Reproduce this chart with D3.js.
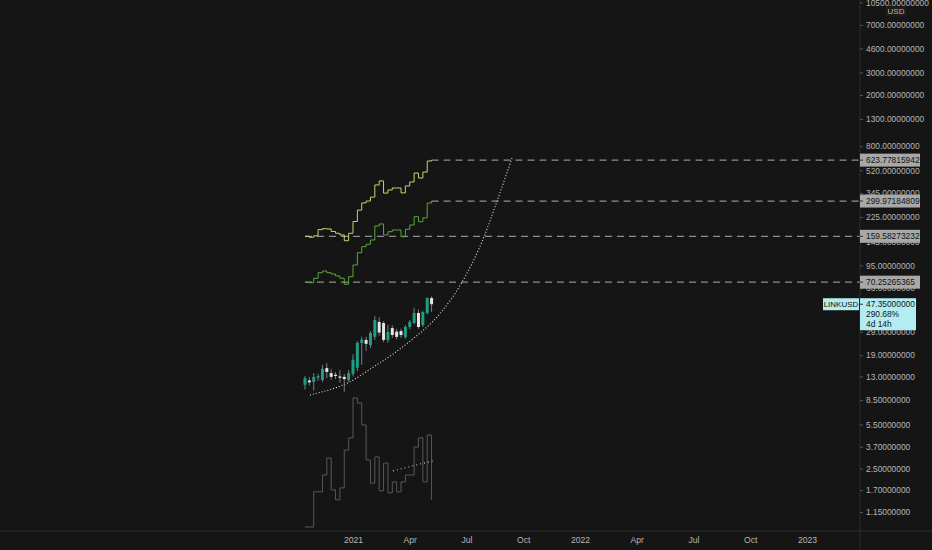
<!DOCTYPE html>
<html>
<head>
<meta charset="utf-8">
<script src="https://cdn.jsdelivr.net/npm/d3@7"></script>
<style>
  html, body { margin: 0; padding: 0; background: #151515; }
  svg { display: block; }
  text { font-family: "Liberation Sans", Arial, sans-serif; }
</style>
</head>
<body>
<svg id="chart" width="932" height="550"></svg>
<script>
// weekly LINKUSD bars, Oct 19 2020 .. May 10 2021
const barDates = d3.utcMonday.range(new Date(Date.UTC(2020, 9, 19)), new Date(Date.UTC(2021, 4, 11)));

const opens  = [11.2, 12.1, 11.8, 12.7, 12.2, 15.1, 13.8, 13.4, 13.0, 12.9, 12.2, 13.6, 15.2, 23.7, 25.0,
                22.8, 26.4, 34.5, 33.8, 25.0, 30.9, 29.0, 29.3, 26.4, 31.5, 33.8, 40.5, 32.7, 40.5, 52.9];
const highs  = [13.1, 12.9, 13.8, 13.6, 16.0, 16.5, 14.9, 14.1, 14.6, 13.6, 14.6, 19.3, 24.5, 26.5, 26.4,
                29.3, 38.4, 37.5, 35.0, 32.7, 32.5, 30.5, 30.5, 32.7, 35.7, 44.5, 43.0, 42.0, 53.5, 54.6];
const lows   = [10.3, 11.1, 10.1, 12.0, 11.8, 12.6, 12.2, 12.4, 11.6, 9.9, 11.8, 13.0, 14.3, 16.0, 20.5,
                21.6, 25.0, 27.0, 24.0, 23.7, 26.0, 25.2, 25.9, 25.5, 30.3, 33.0, 30.5, 31.5, 39.5, 41.3];
const closes = [12.6, 11.7, 12.9, 13.1, 14.9, 14.1, 12.9, 13.1, 12.7, 12.4, 13.8, 17.5, 23.7, 25.2, 23.3,
                28.3, 35.7, 28.5, 25.0, 28.8, 27.3, 26.4, 27.3, 31.5, 34.5, 40.5, 31.5, 41.2, 52.9, 47.35];

// step lines above price
const upperBand = [159.58, 157, 161, 180, 183, 182, 174, 168.5, 163.5, 147.5, 168.5, 208, 255, 290, 300,
                   322, 400, 430, 346, 366, 379, 379, 347, 393, 422, 495, 453, 504, 614, 623.78];
const lowerBand = [70.25, 69.5, 75.3, 83.2, 85.8, 83.2, 81.3, 78.5, 75.3, 67.7, 77.5, 95.5, 119, 132.6, 138.4,
                   149.4, 191.9, 199, 163.4, 173.3, 178.7, 178.7, 158.5, 181, 195.4, 226.8, 207.3, 222, 289.6, 299.97];

// step line below price
const oscValues = [0.88, 0.88, 1.65, 1.65, 2.23, 3.02, 1.71, 1.43, 1.77, 3.49, 4.33, 8.85, 8.09, 5.46, 2.92,
                   1.93, 3.08, 1.68, 2.76, 1.62, 1.97, 1.65, 1.97, 2.23, 2.23, 3.68, 4.33, 1.97, 4.56, 1.43];

// dotted growth curve
const curveDates  = ['2020-10-27', '2021-01-07', '2021-02-03', '2021-03-09', '2021-04-08',
                     '2021-05-23', '2021-06-27', '2021-08-02', '2021-08-23', '2021-09-16'];
const curveValues = [9.33, 12.4, 15.1, 19.4, 25.0, 39.8, 69.2, 157.7, 300, 648];

// small dotted trend on the lower line
const trendDates  = ['2021-03-09', '2021-05-12'];
const trendValues = [2.40, 2.87];

// horizontal levels
const levelValues = [623.77815942, 299.97184809, 159.58273232, 70.25265365];
const levelStarts = ['2021-05-10', '2021-05-10', '2020-10-19', '2020-10-19'];

const priceTicks = [10500, 7000, 4600, 3000, 2000, 1300, 800, 520, 345, 225, 145, 95, 63, 42, 29,
                    19, 13, 8.5, 5.5, 3.7, 2.5, 1.7, 1.15];
const timeTicks  = ['2021-01-04', '2021-04-05', '2021-07-05', '2021-10-04', '2022-01-03',
                    '2022-04-04', '2022-07-04', '2022-10-03', '2023-01-02'];
const timeLabels = ['2021', 'Apr', 'Jul', 'Oct', '2022', 'Apr', 'Jul', 'Oct', '2023'];

const symbol = 'LINKUSD';
const lastInfo = ['47.35000000', '290.68%', '4d 14h'];

const svg = d3.select('#chart');
const width = +svg.attr('width');
const height = +svg.attr('height');
const axisX = 860;
const axisY = 531;

const parse = d3.utcParse('%Y-%m-%d');
const x = d3.scaleUtc()
  .domain([parse('2021-01-04'), parse('2023-01-02')])
  .range([353, 807]);
const y = d3.scaleLog()
  .domain([1.15, 7000])
  .range([512, 25]);

svg.append('rect').attr('width', width).attr('height', height).attr('fill', '#151515');

const plot = svg.append('g');

// level lines
plot.selectAll('.level')
  .data(levelValues)
  .enter().append('line')
  .attr('class', 'level')
  .attr('x1', (d, i) => x(parse(levelStarts[i])))
  .attr('x2', axisX)
  .attr('y1', d => y(d))
  .attr('y2', d => y(d))
  .attr('stroke', '#8e8e8e')
  .attr('stroke-width', 1.2)
  .attr('stroke-dasharray', '7,5');

const stepLine = d3.line()
  .x((d, i) => x(barDates[i]))
  .y(d => y(d))
  .curve(d3.curveStepAfter);

plot.append('path')
  .attr('d', stepLine(upperBand))
  .attr('fill', 'none')
  .attr('stroke', '#cfcf6a')
  .attr('stroke-width', 1);

plot.append('path')
  .attr('d', stepLine(lowerBand))
  .attr('fill', 'none')
  .attr('stroke', '#5ca63a')
  .attr('stroke-width', 1);

plot.append('path')
  .attr('d', stepLine(oscValues))
  .attr('fill', 'none')
  .attr('stroke', '#56595c')
  .attr('stroke-width', 1);

const curveLine = d3.line()
  .x((d, i) => x(parse(curveDates[i])))
  .y(d => y(d))
  .curve(d3.curveMonotoneX);

plot.append('path')
  .attr('d', curveLine(curveValues))
  .attr('fill', 'none')
  .attr('stroke', '#e6e6e6')
  .attr('stroke-width', 1.1)
  .attr('stroke-dasharray', '1,2');

const trendLine = d3.line()
  .x((d, i) => x(parse(trendDates[i])))
  .y(d => y(d));

plot.append('path')
  .attr('d', trendLine(trendValues))
  .attr('fill', 'none')
  .attr('stroke', '#dcc4c4')
  .attr('stroke-width', 1.1)
  .attr('stroke-dasharray', '1,3');

// candles
const candle = plot.selectAll('.candle')
  .data(barDates)
  .enter().append('g')
  .attr('class', 'candle');

candle.append('line')
  .attr('x1', d => x(d))
  .attr('x2', d => x(d))
  .attr('y1', (d, i) => y(highs[i]))
  .attr('y2', (d, i) => y(lows[i]))
  .attr('stroke', '#7c7c7c')
  .attr('stroke-width', 1);

candle.append('rect')
  .attr('x', d => x(d) - 1.5)
  .attr('width', 3)
  .attr('y', (d, i) => y(Math.max(opens[i], closes[i])))
  .attr('height', (d, i) => Math.max(1, y(Math.min(opens[i], closes[i])) - y(Math.max(opens[i], closes[i]))))
  .attr('fill', (d, i) => closes[i] >= opens[i] ? '#1f9d88' : '#e4e4e4');

// frame lines
svg.append('line')
  .attr('x1', axisX).attr('x2', axisX).attr('y1', 0).attr('y2', height)
  .attr('stroke', '#2c2c2c');
svg.append('line')
  .attr('x1', 0).attr('x2', width).attr('y1', axisY).attr('y2', axisY)
  .attr('stroke', '#2c2c2c');

// price axis
const yAxis = svg.append('g')
  .attr('transform', `translate(${axisX},0)`)
  .call(d3.axisRight(y).tickValues(priceTicks).tickFormat(d3.format('.8f')).tickSize(3).tickPadding(3));
yAxis.select('.domain').remove();
yAxis.selectAll('line').attr('stroke', '#555');
yAxis.selectAll('text')
  .attr('fill', '#b6b6b6')
  .style('font-size', '8.4px')
  .style('font-family', '"Liberation Sans", Arial, sans-serif');

// time axis
const xAxis = svg.append('g')
  .attr('transform', `translate(0,${axisY})`)
  .call(d3.axisBottom(x).tickValues(timeTicks.map(parse)).tickFormat((d, i) => timeLabels[i]).tickSize(0).tickPadding(6));
xAxis.select('.domain').remove();
xAxis.selectAll('text')
  .attr('fill', '#b6b6b6')
  .style('font-size', '8.6px')
  .style('font-family', '"Liberation Sans", Arial, sans-serif');

// USD unit label
svg.append('rect').attr('x', 886).attr('y', 6.5).attr('width', 20).attr('height', 10).attr('fill', '#1d1d1d');
svg.append('text')
  .attr('x', 896).attr('y', 11.5)
  .attr('text-anchor', 'middle').attr('dominant-baseline', 'central')
  .attr('fill', '#b6b6b6').style('font-size', '8px')
  .text('USD');

// level price tags
const tags = svg.selectAll('.tag')
  .data(levelValues)
  .enter().append('g')
  .attr('class', 'tag')
  .attr('transform', d => `translate(${axisX},${y(d)})`);
tags.append('rect')
  .attr('x', 0).attr('y', -6.5).attr('width', 60).attr('height', 13)
  .attr('fill', '#a8a8a8');
tags.append('line')
  .attr('x1', 0).attr('x2', 3).attr('y1', 0).attr('y2', 0)
  .attr('stroke', '#333');
tags.append('text')
  .attr('x', 6).attr('y', 0)
  .attr('dominant-baseline', 'central')
  .attr('fill', '#141414').style('font-size', '8.4px')
  .text(d => d3.format('.8f')(d));

// last price tag
const lastY = y(closes[closes.length - 1]);
const lastTag = svg.append('g').attr('transform', `translate(0,${lastY})`);
lastTag.append('rect')
  .attr('x', 823).attr('y', -6).attr('width', 36).attr('height', 12)
  .attr('fill', '#b3ecf1');
lastTag.append('text')
  .attr('x', 841).attr('y', 0)
  .attr('text-anchor', 'middle').attr('dominant-baseline', 'central')
  .attr('fill', '#141414').style('font-size', '8px')
  .text(symbol);
lastTag.append('rect')
  .attr('x', axisX).attr('y', -6).attr('width', 56).attr('height', 32)
  .attr('fill', '#b3ecf1');
lastTag.append('line')
  .attr('x1', axisX).attr('x2', axisX + 3).attr('y1', 0).attr('y2', 0)
  .attr('stroke', '#333');
lastTag.selectAll('.info')
  .data(lastInfo)
  .enter().append('text')
  .attr('class', 'info')
  .attr('x', axisX + 6)
  .attr('y', (d, i) => i * 10)
  .attr('dominant-baseline', 'central')
  .attr('fill', '#141414').style('font-size', '8.4px')
  .text(d => d);
</script>
</body>
</html>
